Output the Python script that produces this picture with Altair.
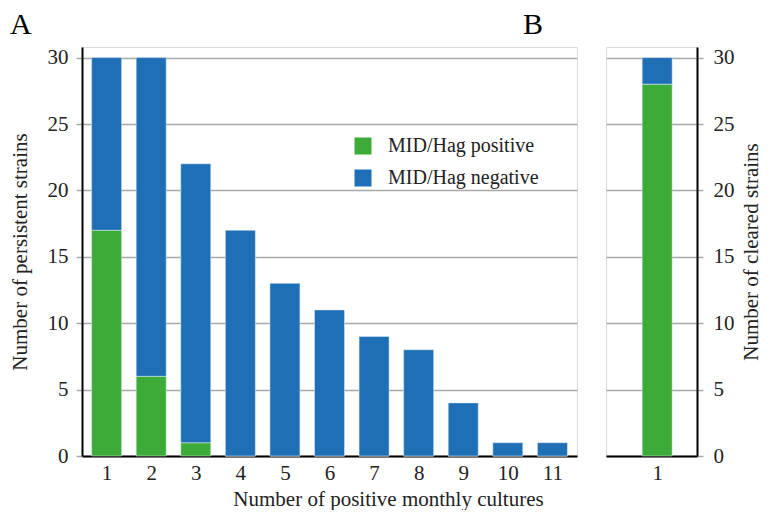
import altair as alt
import pandas as pd

# ---- data ----
cultures = list(range(1, 12))
positive = [17, 6, 1, 0, 0, 0, 0, 0, 0, 0, 0]
negative = [13, 24, 21, 17, 13, 11, 9, 8, 4, 1, 1]
cleared_x = [1]
cleared_positive = [28]
cleared_negative = [2]
series = ["MID/Hag positive", "MID/Hag negative"]
colors = ["#3dab37", "#1f6fb6"]
y_ticks = [0, 5, 10, 15, 20, 25, 30]
panel_letters = ["A", "B"]

FONT = "Liberation Serif"
GRID = "#a8a8a8"
TXT = "#222222"


def long_table(xs, pos, neg):
    rows = []
    for x, p, n in zip(xs, pos, neg):
        rows.append({"x": x, "series": series[0], "ord": 0, "value": p})
        rows.append({"x": x, "series": series[1], "ord": 1, "value": n})
    return pd.DataFrame(rows)


df_a = long_table(cultures, positive, negative)
df_b = long_table(cleared_x, cleared_positive, cleared_negative)

y_scale = alt.Scale(domain=[0, 30.8], nice=False, zero=True)
color_scale = alt.Scale(domain=series, range=colors)

bars_a = alt.Chart(df_a).mark_bar(size=30, stroke="#e8eef6", strokeWidth=0.5).encode(
    x=alt.X("x:Q", scale=alt.Scale(domain=[0.56, 11.44], nice=False, zero=False),
            axis=alt.Axis(values=cultures, grid=False, ticks=False, domainColor="black",
                          domainWidth=2, labelFontSize=21, labelFont=FONT, labelPadding=6,
                          labelColor=TXT, title="Number of positive monthly cultures",
                          titleFont=FONT, titleFontSize=21, titleFontWeight="normal",
                          titleColor=TXT, titleX=306, titlePadding=5, format="d")),
    y=alt.Y("value:Q", stack="zero", scale=y_scale,
            axis=alt.Axis(values=y_ticks, grid=True, gridColor=GRID, gridWidth=1.5,
                          tickColor=GRID, tickWidth=1.5, tickSize=6, domainColor="black",
                          domainWidth=2, labelFontSize=21, labelFont=FONT, labelColor=TXT,
                          labelPadding=8, title="Number of persistent strains",
                          titleFont=FONT, titleFontSize=21, titleFontWeight="normal",
                          titleColor=TXT, titlePadding=17)),
    color=alt.Color("series:N", scale=color_scale, sort=series,
                    legend=alt.Legend(title=None, orient="none", legendX=271, legendY=89,
                                      symbolType="square", symbolSize=289,
                                      symbolStrokeWidth=0, labelFont=FONT, labelFontSize=20,
                                      labelColor=TXT, labelOffset=15, rowPadding=12,
                                      padding=0, labelLimit=300)),
    order=alt.Order("ord:Q"),
)

letter_a = alt.Chart(pd.DataFrame({"t": [panel_letters[0]]})).mark_text(
    font=FONT, fontSize=30, align="left", baseline="alphabetic", color="black"
).encode(x=alt.value(-72), y=alt.value(-13.5), text="t:N")

letter_b = alt.Chart(pd.DataFrame({"t": [panel_letters[1]]})).mark_text(
    font=FONT, fontSize=30, align="left", baseline="alphabetic", color="black"
).encode(x=alt.value(441), y=alt.value(-13.5), text="t:N")

chart_a = alt.layer(bars_a, letter_a, letter_b).properties(width=495, height=409)

chart_b = alt.Chart(df_b).mark_bar(size=30, stroke="#e8eef6", strokeWidth=0.5).encode(
    x=alt.X("x:Q", scale=alt.Scale(domain=[0.43, 1.43], nice=False, zero=False),
            axis=alt.Axis(values=cleared_x, grid=False, ticks=False, domainColor="black",
                          domainWidth=2, labelFontSize=21, labelFont=FONT, labelPadding=6,
                          labelColor=TXT, title=None, format="d")),
    y=alt.Y("value:Q", stack="zero", scale=y_scale,
            axis=alt.Axis(orient="right", values=y_ticks, grid=True, gridColor=GRID,
                          gridWidth=1.5, tickColor=GRID, tickWidth=1.5, tickSize=6,
                          domainColor="black", domainWidth=2, labelFontSize=21,
                          labelFont=FONT, labelColor=TXT, labelPadding=10,
                          title="Number of cleared strains", titleAngle=270,
                          titleBaseline="top",
                          titleFont=FONT, titleFontSize=21, titleFontWeight="normal",
                          titleColor=TXT, titlePadding=6)),
    color=alt.Color("series:N", scale=color_scale, sort=series, legend=None),
    order=alt.Order("ord:Q"),
).properties(width=91, height=409)

chart = (
    alt.hconcat(chart_a, chart_b, spacing=27)
    .resolve_scale(color="independent")
    .configure_view(stroke=None)
    .configure_axis(labelFont=FONT, titleFont=FONT)
    .configure_legend(labelFont=FONT)
    .configure(background="white", font=FONT,
               padding={"top": 1, "left": 0, "right": 0, "bottom": 0})
)

chart.save("out.html", embed_options={"renderer": "svg", "actions": False})
